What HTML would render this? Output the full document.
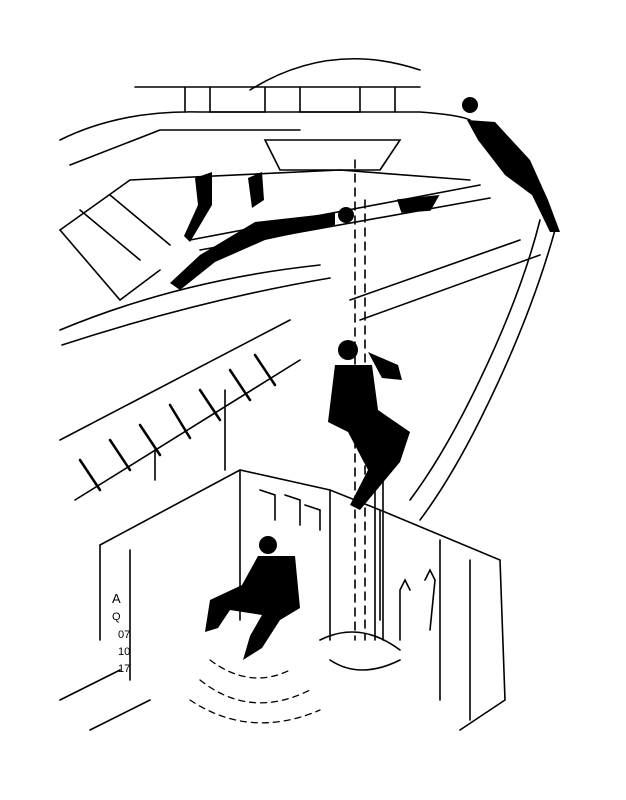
<!DOCTYPE html>
<html><head><meta charset="utf-8"><style>html,body{margin:0;padding:0;background:#fff}svg{display:block}</style></head>
<body>
<svg width="626" height="800" viewBox="0 0 626 800" xmlns="http://www.w3.org/2000/svg" fill="none" stroke="#000" stroke-width="1.6" stroke-linecap="round">
<path d="M135 87 L420 87 M185 87 L185 112 M210 87 L210 112 L265 112 L265 87 M300 87 L300 112 L360 112 L360 87 M395 87 L395 112"/>
<path d="M250 90 Q330 40 420 70"/>
<path d="M60 140 Q120 110 200 112 L420 112 Q460 115 470 120"/>
<path d="M70 165 L160 130 M160 130 L300 130"/>
<path d="M265 140 L400 140 L380 170 L280 170 Z"/>
<path d="M60 230 L130 180 L340 170 L470 180"/>
<path d="M60 230 L120 300 L160 270 M80 210 L140 260 M110 195 L170 245"/>
<path d="M60 330 Q180 280 320 265 M62 345 Q200 300 330 278"/>
<path d="M190 240 L480 185 M200 250 L490 198"/>
<path d="M398 200 L438 196 L430 210 L402 212 Z" fill="#000"/>
<path d="M350 300 L520 240 M360 320 L540 255"/>
<path d="M540 220 Q520 300 470 400 Q440 460 410 500 M555 230 Q530 320 480 420 Q450 480 420 520"/>
<path d="M60 440 L290 320 M75 500 L300 360"/>
<g stroke-width="2.5">
<path d="M80 460 L100 490 M110 440 L130 470 M140 425 L160 455 M170 405 L190 438 M200 390 L220 420 M230 370 L250 400 M255 355 L275 385"/>
</g>
<path d="M355 160 L355 640 M365 200 L365 640" stroke-dasharray="8 6"/>
<path d="M375 470 L375 640 M383 470 L383 640"/>
<path d="M225 390 L225 470 M155 450 L155 480"/>
<path d="M100 545 L240 470 L330 490 L380 510 L500 560 L505 700 L460 730"/>
<path d="M100 545 L100 640 M130 550 L130 680 M240 470 L240 620 M330 490 L330 640"/>
<path d="M380 510 L380 620 M440 540 L440 700 M470 560 L470 720"/>
<path d="M260 490 L275 495 L275 520 M285 495 L300 500 L300 525 M305 505 L320 510 L320 530"/>
<path d="M400 590 L405 580 L410 590 M400 590 L400 640 M425 580 L430 570 L435 580 L430 630"/>
<path d="M320 640 Q360 620 400 650 M330 660 Q360 680 400 660"/>
<path d="M210 660 Q250 690 290 670 M200 680 Q250 720 310 690 M190 700 Q250 740 320 710" stroke-dasharray="6 5" stroke-width="1.3"/>
<path d="M60 700 L120 670 M90 730 L150 700"/>
<g fill="#000" stroke="none">
<ellipse cx="346" cy="215" rx="8" ry="8"/>
<path d="M335 213 L255 222 L200 255 L170 283 L180 290 L215 262 L265 240 L335 225 Z"/>
<path d="M195 178 L212 172 L212 205 L190 242 L184 236 L198 205 Z"/>
<path d="M248 178 L262 172 L264 200 L252 208 Z"/>
<ellipse cx="470" cy="105" rx="8" ry="8"/>
<path d="M467 120 L495 122 L530 160 L548 200 L560 232 L550 232 L532 195 L505 175 L478 140 Z"/>
<ellipse cx="348" cy="350" rx="10" ry="10"/>
<path d="M335 365 L372 365 L378 410 L410 432 L400 462 L385 480 L360 510 L350 505 L368 470 L348 432 L328 422 Z"/>
<path d="M368 352 L398 365 L402 380 L382 378 Z"/>
<ellipse cx="268" cy="545" rx="9" ry="9"/>
<path d="M258 556 L295 556 L300 608 L280 620 L262 648 L243 660 L250 636 L262 615 L230 610 L218 628 L205 632 L210 600 L242 585 Z"/>
</g>
<g fill="#000" stroke="none" font-family="Liberation Sans, sans-serif" font-size="13">
<text x="112" y="603">A</text>
<text x="112" y="620" font-size="11">Q</text>
<text x="118" y="638" font-size="11">07</text>
<text x="118" y="655" font-size="11">10</text>
<text x="118" y="672" font-size="11">17</text>
</g>
</svg>
</body></html>
